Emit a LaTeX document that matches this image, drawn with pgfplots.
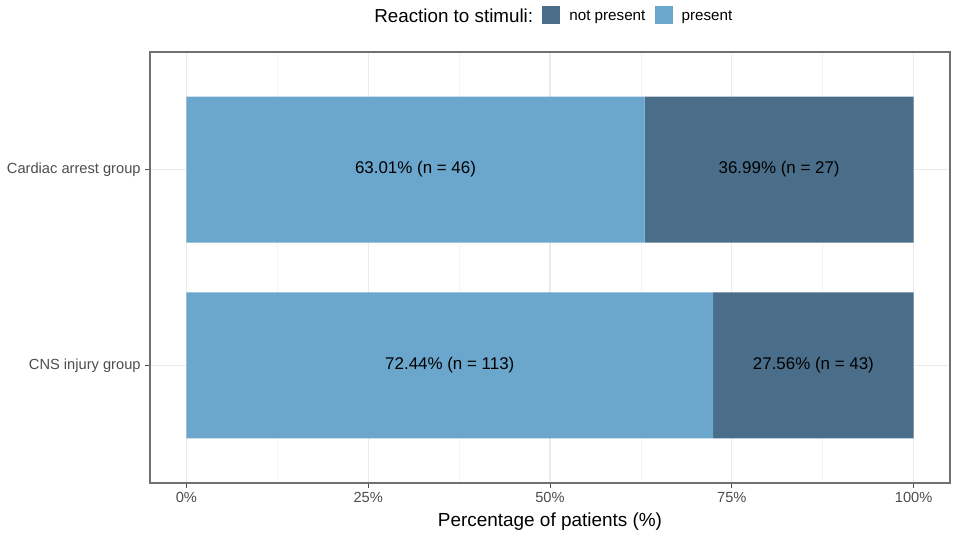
\documentclass[border=0pt]{standalone}
\usepackage{pgfplots}
\pgfplotsset{compat=1.18}
\usepackage{fontspec}
\setmainfont{Liberation Sans}
\definecolor{darkc}{HTML}{4A6E8A}
\definecolor{lightc}{HTML}{6BA6CD}
\definecolor{gridc}{HTML}{EBEBEB}
\definecolor{minorc}{HTML}{F4F4F4}
\definecolor{tickc}{HTML}{4D4D4D}
\definecolor{framec}{HTML}{707070}
\pgfplotstableread{
y present notpresent
1 72.44 27.56
2 63.01 36.99
}\bars
\pgfplotstableread{
x y label
36.22 1 {72.44\% (n = 113)}
86.22 1 {27.56\% (n = 43)}
31.505 2 {63.01\% (n = 46)}
81.505 2 {36.99\% (n = 27)}
}\labels
\begin{document}
\begin{tikzpicture}
\pgfplotsset{common/.style={
  at={(0,0)}, anchor=south west,
  scale only axis, width=600pt, height=323.25pt,
  xmin=-5, xmax=105, ymin=0.4, ymax=2.6}}
\begin{axis}[
  common,
  xbar stacked, bar width=0.745,
  ytick={1,2}, yticklabels={CNS injury group, Cardiac arrest group},
  xtick={0,25,50,75,100}, xticklabels={0\%,25\%,50\%,75\%,100\%},
  minor xtick={12.5,37.5,62.5,87.5},
  xmajorgrids, ymajorgrids, xminorgrids,
  major grid style={draw=gridc, line width=0.8pt},
  minor grid style={draw=minorc, line width=0.5pt},
  tick align=outside, tick pos=left,
  major tick length=3.5pt, minor tick length=0pt,
  tick style={draw=tickc, line width=0.7pt},
  axis line style={draw=framec, line width=0.8pt},
  ticklabel style={font=\fontsize{11}{13}\selectfont, text=tickc},
  xlabel={Percentage of patients (\%)},
  xlabel style={font=\fontsize{14.2}{16}\selectfont, at={(axis description cs:0.5,-0.0905)}, anchor=center},
  legend style={at={(0.5,1.083)}, anchor=center, draw=none, fill=none,
    legend columns=3, font=\fontsize{11.4}{13}\selectfont,
    /tikz/every odd column/.append style={column sep=5pt},
    /tikz/every even column/.append style={column sep=5pt}},
]
\addplot[fill=lightc, draw=none, forget plot] table[x=present, y=y] {\bars};
\addplot[fill=darkc, draw=none, forget plot] table[x=notpresent, y=y] {\bars};
\addlegendimage{empty legend}
\addlegendentry{\fontsize{14.1}{16}\selectfont Reaction to stimuli:}
\addlegendimage{legend image code/.code={\fill[darkc] (0pt,-5.2pt) rectangle (12.75pt,7.55pt);}}
\addlegendentry{not present}
\addlegendimage{legend image code/.code={\fill[lightc] (0pt,-5.2pt) rectangle (12.75pt,7.55pt);}}
\addlegendentry{present}
\end{axis}
\begin{axis}[common, hide axis]
\addplot[only marks, mark=none, nodes near coords, point meta=explicit symbolic,
  every node near coord/.append style={anchor=center, font=\fontsize{12.7}{15}\selectfont, text=black}]
  table[x=x, y=y, meta=label] {\labels};
\end{axis}
\pgfresetboundingbox
\path (-112.5pt,-40.5pt) rectangle (605.25pt,362.25pt);
\end{tikzpicture}
\end{document}
